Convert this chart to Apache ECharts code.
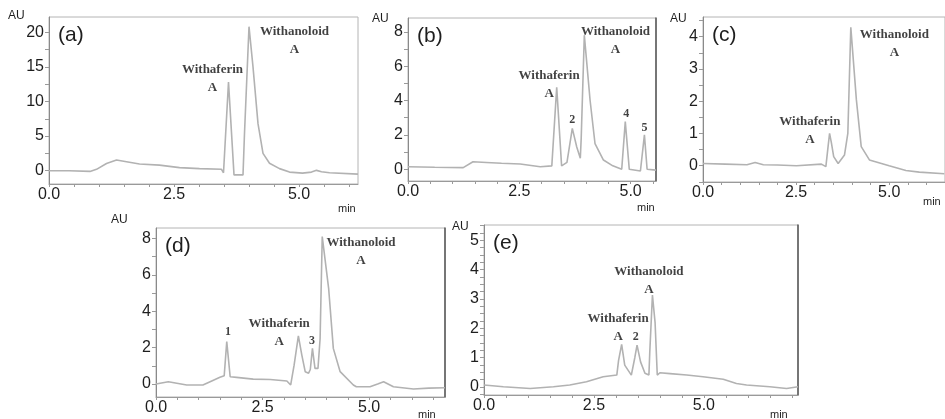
<!DOCTYPE html>
<html>
<head>
<meta charset="utf-8">
<script src="https://cdn.jsdelivr.net/npm/echarts@6/dist/echarts.min.js"></script>
<style>
html,body{margin:0;padding:0;background:#fff;}
#chart{width:945px;height:419px;}
</style>
</head>
<body>
<div id="chart"></div>
<script>
// ---- data (retention time in min, absorbance in AU) ----
const panelNames = ['(a)', '(b)', '(c)', '(d)', '(e)'];
const xTickLabels = [0, 2.5, 5.0];

const traceA = [[0,0],[0.4,0.0],[0.82,-0.1],[0.95,0.2],[1.15,1.05],[1.35,1.55],[1.55,1.3],[1.81,0.97],[2.21,0.8],[2.61,0.45],[3.01,0.3],[3.45,0.2],[3.49,-0.3],[3.59,12.8],[3.70,-0.6],[3.88,-0.6],[3.91,5.4],[4.0,20.8],[4.08,15],[4.18,6.8],[4.28,2.5],[4.41,1.07],[4.61,0.3],[4.81,-0.2],[5.07,-0.35],[5.25,-0.2],[5.35,0.05],[5.45,-0.15],[5.61,-0.3],[6.18,-0.5]];
const traceB = [[0,0.15],[0.6,0.12],[1.24,0.1],[1.46,0.44],[1.76,0.4],[2.1,0.35],[2.52,0.31],[2.97,0.15],[3.23,0.2],[3.34,4.77],[3.45,0.2],[3.57,0.4],[3.69,2.38],[3.79,1.3],[3.87,0.64],[3.89,1.8],[3.96,7.8],[4.0,7.8],[4.09,4.0],[4.2,1.5],[4.39,0.54],[4.6,0.2],[4.8,0.0],[4.88,2.77],[4.97,0.0],[5.22,-0.1],[5.26,-0.05],[5.31,2.0],[5.37,0.0],[5.57,-0.05]];
const traceC = [[0,0.07],[0.6,0.05],[1.18,0.03],[1.4,0.1],[1.62,0.03],[2.0,0.02],[2.51,0.0],[3.18,0.05],[3.30,-0.03],[3.36,0.6],[3.40,1.0],[3.45,0.7],[3.51,0.28],[3.63,0.07],[3.80,0.33],[3.89,1.0],[3.97,4.29],[4.12,2.04],[4.25,0.59],[4.47,0.18],[5.0,0.0],[5.45,-0.15],[5.81,-0.2],[6.48,-0.25]];
const traceD = [[0,0],[0.29,0.13],[0.72,-0.05],[1.1,-0.05],[1.27,0.13],[1.5,0.37],[1.6,0.46],[1.66,2.33],[1.74,0.4],[1.89,0.37],[2.28,0.27],[2.68,0.25],[3.07,0.17],[3.16,-0.05],[3.24,1.04],[3.34,2.65],[3.42,1.6],[3.50,0.68],[3.58,0.6],[3.62,0.8],[3.67,1.96],[3.73,0.86],[3.80,0.86],[3.85,2.5],[3.90,8.1],[3.93,8.1],[4.05,5.26],[4.16,1.96],[4.32,0.68],[4.63,-0.05],[4.7,-0.15],[5.02,-0.15],[5.2,0.0],[5.34,0.13],[5.57,-0.15],[6.04,-0.27],[6.4,-0.22],[6.78,-0.2]];
const traceE = [[0,0.06],[0.44,0.0],[1.05,-0.06],[1.58,0.0],[1.95,0.06],[2.33,0.17],[2.71,0.34],[3.02,0.4],[3.06,0.9],[3.13,1.45],[3.2,0.74],[3.35,0.4],[3.43,1.0],[3.48,1.42],[3.56,0.85],[3.66,0.46],[3.75,0.4],[3.77,1.2],[3.83,3.13],[3.89,2.2],[3.94,0.4],[4.0,0.48],[4.23,0.45],[4.61,0.4],[4.98,0.34],[5.44,0.26],[5.74,0.11],[5.97,0.06],[6.5,0.0],[6.88,-0.06],[7.14,0.0]];

// y tick labels per panel
const yLabelsA = [0, 5, 10, 15, 20];
const yLabelsB = [0, 2, 4, 6, 8];
const yLabelsC = [0, 1, 2, 3, 4];
const yLabelsD = [0, 2, 4, 6, 8];
const yLabelsE = [0, 1, 2, 3, 4, 5];

// peak annotations: [time, AU anchor, text]
const annA = [[3.27, 13.36, 'Withaferin\nA'], [4.91, 18.83, 'Withanoloid\nA']];
const annB = [[3.17, 4.9, 'Withaferin\nA'], [3.69, 2.87, '2'], [4.66, 7.46, 'Withanoloid\nA'], [4.90, 3.22, '4'], [5.31, 2.40, '5']];
const annC = [[2.87, 1.08, 'Withaferin\nA'], [5.14, 3.77, 'Withanoloid\nA']];
const annD = [[1.69, 2.86, '1'], [2.89, 2.80, 'Withaferin\nA'], [3.66, 2.36, '3'], [4.81, 7.25, 'Withanoloid\nA']];
const annE = [[3.75, 3.62, 'Withanoloid\nA'], [3.05, 2.02, 'Withaferin\nA'], [3.45, 1.70, '2']];

// ---- layout / style ----
const panels = [
  {trace: traceA, ann: annA, yLabels: yLabelsA, yStep: 2.5, grid: {left: 49, top: 17, width: 309, height: 167}, x: [0, 6.18], y: [-1.92, 22.2], darkRight: false},
  {trace: traceB, ann: annB, yLabels: yLabelsB, yStep: 1, grid: {left: 408, top: 18, width: 248, height: 163}, x: [0, 5.57], y: [-0.68, 8.8], darkRight: true},
  {trace: traceC, ann: annC, yLabels: yLabelsC, yStep: 0.5, grid: {left: 703, top: 17, width: 243, height: 165}, x: [0, 6.5], y: [-0.505, 4.61], darkRight: false},
  {trace: traceD, ann: annD, yLabels: yLabelsD, yStep: 1, grid: {left: 156, top: 228, width: 289, height: 169}, x: [0, 6.78], y: [-0.71, 8.57], darkRight: true},
  {trace: traceE, ann: annE, yLabels: yLabelsE, yStep: 0.25, grid: {left: 484, top: 225, width: 314, height: 170}, x: [0, 7.14], y: [-0.28, 5.52], darkRight: true}
];

function stepValues(lo, hi, step) {
  const out = [];
  const start = Math.ceil(lo / step - 1e-9);
  for (let k = start; k * step <= hi + 1e-9; k++) out.push(+(k * step).toFixed(4));
  return out;
}

const SANS = 'Liberation Sans, Arial, sans-serif';
const SERIF = 'Liberation Serif, Times New Roman, serif';
const TEXT = '#1e1e1e';

const grids = [], xAxes = [], yAxes = [], series = [], graphics = [];

panels.forEach((p, i) => {
  grids.push(Object.assign({show: true, borderColor: '#b4b4b4', borderWidth: 1, backgroundColor: 'transparent'}, p.grid));
  xAxes.push({
    type: 'value', gridIndex: i, min: p.x[0], max: p.x[1],
    axisLine: {show: true, onZero: false, lineStyle: {color: '#9a9a9a', width: 1}},
    axisTick: {show: true, length: 3, customValues: stepValues(p.x[0], p.x[1], 0.5), lineStyle: {color: '#9a9a9a'}},
    axisLabel: {customValues: xTickLabels, formatter: v => v.toFixed(1), color: TEXT, fontFamily: SANS, fontSize: 16, margin: 3},
    splitLine: {show: false}
  });
  yAxes.push({
    type: 'value', gridIndex: i, min: p.y[0], max: p.y[1],
    axisLine: {show: true, onZero: false, lineStyle: {color: '#8a8a8a', width: 1}},
    axisTick: {show: true, length: 4, customValues: stepValues(p.y[0], p.y[1], p.yStep), lineStyle: {color: '#9a9a9a'}},
    axisLabel: {customValues: p.yLabels, color: TEXT, fontFamily: SANS, fontSize: 16, margin: 5},
    splitLine: {show: false}
  });
  if (p.darkRight) {
    yAxes.push({
      type: 'value', gridIndex: i, position: 'right', min: p.y[0], max: p.y[1],
      axisLine: {show: true, onZero: false, lineStyle: {color: '#555', width: 1.5}},
      axisTick: {show: false}, axisLabel: {show: false}, splitLine: {show: false}
    });
  }
  const yIdx = yAxes.length - (p.darkRight ? 2 : 1);
  series.push({
    type: 'line', xAxisIndex: i, yAxisIndex: yIdx, data: p.trace,
    showSymbol: false, smooth: false, animation: false, silent: true,
    lineStyle: {color: '#b2b2b2', width: 1.6}
  });
  series.push({
    type: 'scatter', xAxisIndex: i, yAxisIndex: yIdx, animation: false, silent: true,
    symbolSize: 1, itemStyle: {color: 'rgba(0,0,0,0)'}, z: 5,
    data: p.ann.map(a => {
      const isNum = a[2].length === 1;
      return {
        value: a,
        label: {
          show: true, position: 'inside', formatter: (q) => q.value[2],
          color: '#111', fontFamily: SERIF,
          fontSize: isNum ? 12 : 13, fontWeight: 'bold',
          lineHeight: 18, align: 'center', verticalAlign: 'middle'
        }
      };
    })
  });
  // panel letter
  graphics.push({
    type: 'text', left: p.grid.left + 9, top: p.grid.top + 8,
    style: {text: panelNames[i], font: '21px ' + SANS, fill: TEXT}
  });
});

// axis unit titles
const unitPos = [
  {au: [8, 10], min: [338, 203]},
  {au: [372, 13], min: [637, 202]},
  {au: [670, 13], min: [923, 196]},
  {au: [111, 214], min: [418, 409]},
  {au: [452, 221], min: [770, 409]}
];
unitPos.forEach(u => {
  graphics.push({type: 'text', left: u.au[0], top: u.au[1], style: {text: 'AU', font: '12px ' + SANS, fill: TEXT}});
  graphics.push({type: 'text', left: u.min[0], top: u.min[1], style: {text: 'min', font: '11px ' + SANS, fill: TEXT}});
});

const chart = echarts.init(document.getElementById('chart'), null, {renderer: 'canvas'});
chart.setOption({
  backgroundColor: '#fff',
  animation: false,
  grid: grids,
  xAxis: xAxes,
  yAxis: yAxes,
  series: series,
  graphic: graphics
});
</script>
</body>
</html>
